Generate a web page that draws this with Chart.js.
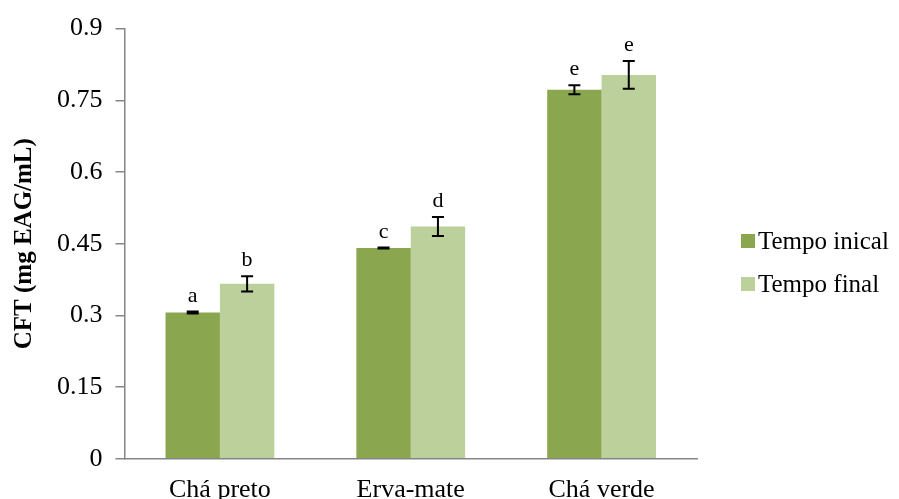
<!DOCTYPE html>
<html>
<head>
<meta charset="utf-8">
<script src="https://cdn.jsdelivr.net/npm/chart.js@4.4.1/dist/chart.umd.min.js"></script>
<style>
  html, body { margin: 0; padding: 0; background: #fff; }
  #wrap { width: 899px; height: 499px; }
</style>
</head>
<body>
<div id="wrap"><canvas id="chart" width="899" height="499"></canvas></div>
<script>
// data
const categories = ['Chá preto', 'Erva-mate', 'Chá verde'];
const seriesNames = ['Tempo inical', 'Tempo final'];
const inicial = [0.306, 0.441, 0.772];
const final = [0.366, 0.486, 0.803];
const erroInicial = [0.002, 0.001, 0.0095];
const erroFinal = [0.016, 0.02, 0.029];
const letrasInicial = ['a', 'c', 'e'];
const letrasFinal = ['b', 'd', 'e'];
const yTicks = [0, 0.15, 0.3, 0.45, 0.6, 0.75, 0.9];

const serif = "'Liberation Serif', 'Times New Roman', serif";

// error bars + letters above them
const errorBars = {
    id: 'errorBars',
    afterDatasetsDraw(chart) {
        const ctx = chart.ctx;
        const y = chart.scales.y;
        const errs = [erroInicial, erroFinal];
        const letters = [letrasInicial, letrasFinal];
        ctx.save();
        chart.data.datasets.forEach((ds, i) => {
            const meta = chart.getDatasetMeta(i);
            meta.data.forEach((bar, j) => {
                const v = ds.data[j];
                const top = y.getPixelForValue(v + errs[i][j]);
                const bot = y.getPixelForValue(v - errs[i][j]);
                ctx.strokeStyle = '#000';
                ctx.lineWidth = 2;
                ctx.beginPath();
                ctx.moveTo(bar.x, top);
                ctx.lineTo(bar.x, bot);
                ctx.moveTo(bar.x - 6, top);
                ctx.lineTo(bar.x + 6, top);
                ctx.moveTo(bar.x - 6, bot);
                ctx.lineTo(bar.x + 6, bot);
                ctx.stroke();
                ctx.fillStyle = '#000';
                ctx.font = '22px ' + serif;
                ctx.textAlign = 'center';
                ctx.textBaseline = 'alphabetic';
                ctx.fillText(letters[i][j], bar.x, top - 10);
            });
        });
        ctx.restore();
    }
};

// legend drawn at the right, next to the plot
const sideLegend = {
    id: 'sideLegend',
    afterDraw(chart) {
        const ctx = chart.ctx;
        ctx.save();
        ctx.font = '25px ' + serif;
        ctx.textBaseline = 'middle';
        ctx.textAlign = 'left';
        chart.data.datasets.forEach((ds, i) => {
            const cy = 241 + i * 43;
            ctx.fillStyle = ds.backgroundColor;
            ctx.fillRect(741, cy - 7, 14, 14);
            ctx.fillStyle = '#000';
            ctx.fillText(ds.label, 758, cy + 1);
        });
        ctx.restore();
    }
};

new Chart(document.getElementById('chart'), {
    type: 'bar',
    data: {
        labels: categories,
        datasets: [{
            label: seriesNames[0],
            data: inicial,
            backgroundColor: '#8aa74f'
        }, {
            label: seriesNames[1],
            data: final,
            backgroundColor: '#bbd09a'
        }]
    },
    options: {
        responsive: false,
        animation: false,
        layout: { padding: { top: 14, right: 202, left: 10, bottom: -15 } },
        datasets: {
            bar: { barPercentage: 1, categoryPercentage: 0.57 }
        },
        plugins: {
            legend: { display: false },
            tooltip: { enabled: false }
        },
        scales: {
            x: {
                grid: { display: false },
                border: { color: '#868686', width: 1.5 },
                ticks: { color: '#000', padding: 8, font: { family: serif, size: 26 } }
            },
            y: {
                min: 0,
                max: 0.9,
                afterBuildTicks: (axis) => { axis.ticks = yTicks.map(v => ({ value: v })); },
                grid: { drawOnChartArea: false, tickLength: 9, color: '#868686', lineWidth: 1.5 },
                border: { color: '#868686', width: 1.5 },
                ticks: {
                    color: '#000',
                    padding: 13,
                    font: { family: serif, size: 26 },
                    callback: (v) => String(v)
                },
                title: {
                    display: true,
                    text: 'CFT (mg EAG/mL)',
                    color: '#000',
                    font: { family: serif, size: 25, weight: 'bold' },
                    padding: { top: 0, bottom: 4 }
                }
            }
        }
    },
    plugins: [errorBars, sideLegend]
});
</script>
</body>
</html>
